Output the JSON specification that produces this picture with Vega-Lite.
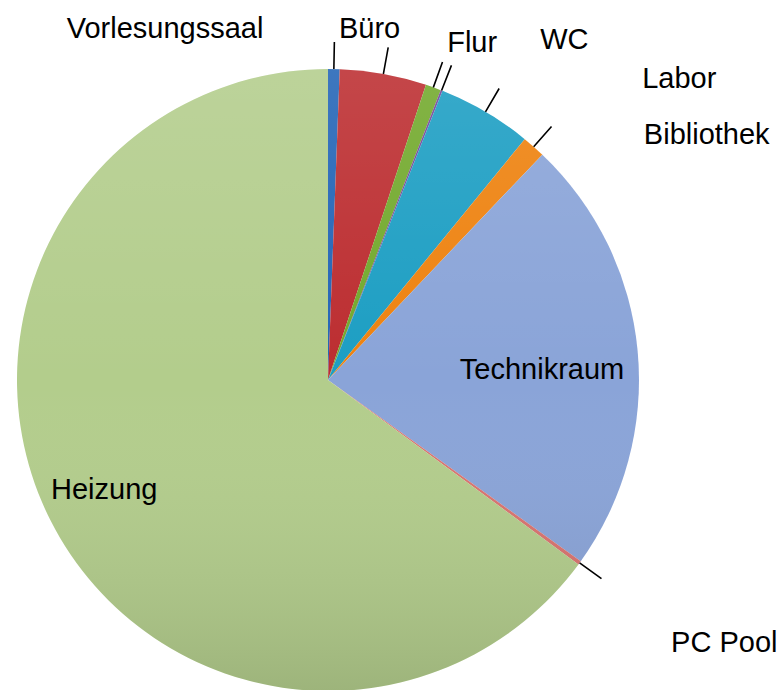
{
  "$schema": "https://vega.github.io/schema/vega-lite/v6.json",
  "width": 656,
  "height": 760,
  "padding": {"left": 0, "top": 0, "right": 125, "bottom": 0},
  "autosize": {"type": "none"},
  "background": "white",
  "config": {"view": {"stroke": null}},
  "data": {
    "values": [
      {"label": "Vorlesungssaal", "value": 0.6},
      {"label": "Büro", "value": 4.5},
      {"label": "Flur", "value": 0.8},
      {"label": "WC", "value": 0.1},
      {"label": "Labor", "value": 4.9},
      {"label": "Bibliothek", "value": 1.2},
      {"label": "Technikraum", "value": 22.8},
      {"label": "PC Pool", "value": 0.2},
      {"label": "Heizung", "value": 64.9}
    ]
  },
  "transform": [{"window": [{"op": "row_number", "as": "idx"}]}],
  "encoding": {
    "theta": {"field": "value", "type": "quantitative", "stack": true}
  },
  "layer": [
    {
      "mark": {"type": "arc", "outerRadius": 311},
      "encoding": {
        "order": {"field": "idx", "type": "quantitative"},
        "color": {
          "field": "label",
          "type": "nominal",
          "legend": null,
          "scale": {
            "domain": ["Vorlesungssaal", "Büro", "Flur", "WC", "Labor", "Bibliothek", "Technikraum", "PC Pool", "Heizung"],
            "range": ["#2364B6", "#BC2D30", "#72A92C", "#74449A", "#1C9EC3", "#EE820F", "#8AA4D8", "#D9736F", "#B3CD8C"]
          }
        }
      }
    },
    {
      "transform": [{"aggregate": [{"op": "sum", "field": "value", "as": "total"}]}],
      "mark": {
        "type": "arc",
        "outerRadius": 311,
        "fill": {
          "gradient": "linear", "x1": 0, "y1": 0, "x2": 0, "y2": 1,
          "stops": [
            {"offset": 0, "color": "rgba(255,255,255,0.12)"},
            {"offset": 0.5, "color": "rgba(255,255,255,0)"},
            {"offset": 1, "color": "rgba(0,0,0,0.12)"}
          ]
        }
      },
      "encoding": {
        "theta": {"field": "total", "type": "quantitative", "stack": true}
      }
    },
    {
      "mark": {"type": "arc", "innerRadius": 311, "outerRadius": 338, "padAngle": 3, "filled": false, "stroke": "black", "strokeWidth": 1.6},
      "encoding": {
        "order": {"field": "idx", "type": "quantitative"},
        "detail": {"field": "label", "type": "nominal"},
        "strokeOpacity": {"condition": {"test": "datum.label !== 'Heizung' && datum.label !== 'Technikraum'", "value": 1}, "value": 0}
      }
    },
    {
      "mark": {"type": "text", "radius": 253, "align": "center", "baseline": "alphabetic", "dx": 2, "dy": 5, "font": "Liberation Sans", "fontSize": 29, "fill": "black"},
      "encoding": {
        "order": {"field": "idx", "type": "quantitative"},
        "detail": {"field": "label", "type": "nominal"},
        "text": {"condition": {"test": "datum.label === 'Heizung'", "field": "label", "type": "nominal"}, "value": ""}
      }
    },
    {
      "mark": {"type": "text", "radius": 215, "align": "center", "baseline": "alphabetic", "dx": 0, "dy": 19, "font": "Liberation Sans", "fontSize": 29, "fill": "black"},
      "encoding": {
        "order": {"field": "idx", "type": "quantitative"},
        "detail": {"field": "label", "type": "nominal"},
        "text": {"condition": {"test": "datum.label === 'Technikraum'", "field": "label", "type": "nominal"}, "value": ""}
      }
    },
    {
      "mark": {"type": "text", "radius": 340, "align": "right", "baseline": "alphabetic", "dx": -71, "dy": -2, "font": "Liberation Sans", "fontSize": 29, "fill": "black"},
      "encoding": {
        "order": {"field": "idx", "type": "quantitative"},
        "detail": {"field": "label", "type": "nominal"},
        "text": {"condition": {"test": "datum.label === 'Vorlesungssaal'", "field": "label", "type": "nominal"}, "value": ""}
      }
    },
    {
      "mark": {"type": "text", "radius": 340, "align": "center", "baseline": "alphabetic", "dx": -19, "dy": -7, "font": "Liberation Sans", "fontSize": 29, "fill": "black"},
      "encoding": {
        "order": {"field": "idx", "type": "quantitative"},
        "detail": {"field": "label", "type": "nominal"},
        "text": {"condition": {"test": "datum.label === 'Büro'", "field": "label", "type": "nominal"}, "value": ""}
      }
    },
    {
      "mark": {"type": "text", "radius": 340, "align": "left", "baseline": "alphabetic", "dx": 4, "dy": -8, "font": "Liberation Sans", "fontSize": 29, "fill": "black"},
      "encoding": {
        "order": {"field": "idx", "type": "quantitative"},
        "detail": {"field": "label", "type": "nominal"},
        "text": {"condition": {"test": "datum.label === 'Flur'", "field": "label", "type": "nominal"}, "value": ""}
      }
    },
    {
      "mark": {"type": "text", "radius": 340, "align": "left", "baseline": "alphabetic", "dx": 88, "dy": -14, "font": "Liberation Sans", "fontSize": 29, "fill": "black"},
      "encoding": {
        "order": {"field": "idx", "type": "quantitative"},
        "detail": {"field": "label", "type": "nominal"},
        "text": {"condition": {"test": "datum.label === 'WC'", "field": "label", "type": "nominal"}, "value": ""}
      }
    },
    {
      "mark": {"type": "text", "radius": 340, "align": "left", "baseline": "alphabetic", "dx": 142, "dy": 1, "font": "Liberation Sans", "fontSize": 29, "fill": "black"},
      "encoding": {
        "order": {"field": "idx", "type": "quantitative"},
        "detail": {"field": "label", "type": "nominal"},
        "text": {"condition": {"test": "datum.label === 'Labor'", "field": "label", "type": "nominal"}, "value": ""}
      }
    },
    {
      "mark": {"type": "text", "radius": 340, "align": "left", "baseline": "alphabetic", "dx": 91, "dy": 19, "font": "Liberation Sans", "fontSize": 29, "fill": "black"},
      "encoding": {
        "order": {"field": "idx", "type": "quantitative"},
        "detail": {"field": "label", "type": "nominal"},
        "text": {"condition": {"test": "datum.label === 'Bibliothek'", "field": "label", "type": "nominal"}, "value": ""}
      }
    },
    {
      "mark": {"type": "text", "radius": 340, "align": "left", "baseline": "alphabetic", "dx": 68, "dy": 72, "font": "Liberation Sans", "fontSize": 29, "fill": "black"},
      "encoding": {
        "order": {"field": "idx", "type": "quantitative"},
        "detail": {"field": "label", "type": "nominal"},
        "text": {"condition": {"test": "datum.label === 'PC Pool'", "field": "label", "type": "nominal"}, "value": ""}
      }
    }
  ]
}
